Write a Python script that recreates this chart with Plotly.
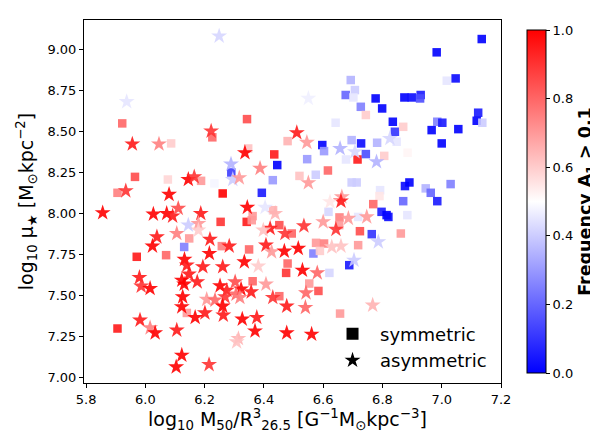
import plotly.graph_objects as go

# symmetric galaxies (squares)
sym_x = [5.922, 6.087, 5.965, 5.906, 6.076, 5.971, 6.070, 5.906, 6.140, 6.131, 6.148,
         6.226, 6.343, 6.347, 6.188, 6.233, 6.261, 6.290, 6.393, 6.430, 6.445, 6.435,
         6.480, 6.520, 6.398, 6.597, 6.603, 6.546, 6.575, 6.616, 6.362, 6.431,
         6.254, 6.258, 6.342, 6.359, 6.452, 6.494, 6.350, 6.567, 6.576, 6.603,
         6.480, 6.475, 6.621, 6.362, 6.553, 6.584, 6.452, 6.308,
         7.135, 6.983, 7.017, 7.047, 6.693, 6.707, 6.676, 6.702, 6.777, 6.874, 6.899, 6.929, 6.927,
         6.799, 6.727, 6.744, 6.835, 6.842, 6.870, 6.966, 6.985, 7.002, 7.056, 7.000, 7.123, 7.118,
         7.137, 6.642, 6.696, 6.728, 6.716, 6.744, 6.677, 6.782, 6.848, 6.806, 6.885, 6.696, 6.713,
         6.876, 6.891, 6.946, 6.963, 6.985, 7.030, 6.792, 6.790, 6.769, 6.870, 6.797, 6.814, 6.820,
         6.884, 6.618, 6.655, 6.718, 6.657,
         6.654, 6.724, 6.764, 6.862, 6.718, 6.589, 6.688, 6.657]
sym_y = [8.547, 8.425, 8.221, 8.124, 8.205, 7.734, 7.744, 7.297, 7.392, 7.794, 7.846,
         8.462, 8.573, 8.394, 8.197, 8.181, 8.120, 8.248, 8.124, 8.201, 8.293, 8.358,
         8.439, 8.227, 8.374, 8.415, 8.378, 8.329, 8.234, 8.260, 7.982, 8.018,
         7.947, 7.799, 7.947, 7.957, 7.927, 7.876, 7.779, 7.754, 7.819, 7.815,
         7.693, 7.636, 7.636, 7.585, 7.571, 7.526, 7.494, 7.886,
         9.061, 8.980, 8.807, 8.821, 8.811, 8.750, 8.720, 8.705, 8.699, 8.705, 8.705, 8.720, 8.699,
         8.638, 8.648, 8.598, 8.557, 8.496, 8.526, 8.506, 8.557, 8.551, 8.512, 8.425, 8.612, 8.563,
         8.551, 8.551, 8.445, 8.425, 8.327, 8.360, 8.327, 8.429, 8.435, 8.349, 8.368, 8.187, 8.187,
         8.165, 8.187, 8.151, 8.124, 8.073, 8.177, 8.140, 8.104, 8.055, 8.073, 8.008, 7.988, 7.977,
         7.988, 8.008, 7.974, 7.977, 8.486,
         7.927, 7.890, 7.872, 7.876, 7.805, 7.770, 7.683, 7.388]
sym_freq = [0.8, 0.6, 0.85, 0.75, 0.58, 0.95, 0.8, 0.95, 0.7, 0.25, 0.7,
            0.8, 0.85, 0.62, 0.7, 0.48, 1.0, 0.12, 0.05, 0.3, 0.0, 0.95,
            0.65, 0.62, 0.5, 0.0, 0.3, 0.3, 0.4, 0.8, 0.7, 0.65,
            0.9, 0.75, 0.95, 0.7, 0.85, 0.8, 0.8, 0.25, 0.7, 0.75,
            0.8, 0.9, 0.42, 0.8, 0.7, 0.85, 0.8, 0.5,
            0.0, 0.0, 0.45, 0.02, 0.35, 0.4, 0.2, 0.45, 0.0, 0.0, 0.02, 0.05, 0.15,
            0.0, 0.25, 0.6, 0.0, 0.1, 0.6, 0.0, 0.25, 0.05, 0.0, 0.0, 0.05, 0.0,
            0.4, 0.45, 0.35, 0.02, 0.95, 0.15, 0.45, 0.35, 0.45, 0.6, 0.52, 0.4, 0.4,
            0.02, 0.0, 0.35, 0.2, 0.05, 0.25, 0.45, 0.55, 0.8, 0.2, 0.05, 0.0, 0.02,
            0.45, 0.42, 0.75, 0.45, 0.5,
            0.7, 0.85, 0.1, 0.7, 0.7, 0.6, 0.05, 0.7]

# asymmetric galaxies (stars)
asym_x = [5.937, 5.956, 6.046, 5.934, 5.856, 6.080, 6.027, 6.072, 6.092, 6.111, 6.039,
          6.024, 6.106, 5.980, 5.986, 6.016, 5.982, 6.016, 6.033, 6.106, 6.104, 6.123,
          6.132, 6.140, 6.147, 6.123, 6.131, 6.126, 6.123, 6.145, 6.145,
          6.249, 6.222, 6.336, 6.165, 6.289, 6.295, 6.317, 6.387, 6.511, 6.545, 6.550,
          6.187, 6.344, 6.404, 6.438, 6.179, 6.550,
          6.179, 6.218, 6.283, 6.216, 6.421, 6.398, 6.471, 6.535, 6.600, 6.643, 6.407,
          6.426, 6.469, 6.516, 6.629, 6.194, 6.261, 6.334, 6.381, 6.530, 6.580, 6.175,
          6.252, 6.303, 6.407, 6.275, 6.323, 6.357, 6.306, 6.207, 6.235, 6.269, 6.319,
          6.430, 6.542, 6.261, 6.201, 6.168, 6.263, 6.327, 6.376, 6.477, 6.540, 6.370,
          6.477, 6.561, 6.314, 6.308, 6.215,
          6.657, 6.707, 6.780, 6.825, 6.663, 6.660, 6.623, 6.685, 6.747,
          6.660, 6.704, 6.786, 6.767]
asym_y = [8.679, 8.421, 8.421, 8.136, 8.002, 8.114, 7.994, 7.998, 7.982, 8.029, 7.855,
          7.799, 7.876, 7.608, 7.555, 7.541, 7.348, 7.301, 7.270, 7.287, 7.063, 7.134,
          7.718, 7.683, 7.628, 7.591, 7.567, 7.490, 7.429, 7.927, 8.205,
          9.079, 8.500, 8.368, 8.221, 8.299, 8.205, 8.215, 8.273, 8.490, 8.431, 8.185,
          7.998, 8.035, 8.035, 7.998, 7.937, 8.699,
          7.896, 7.840, 7.799, 7.754, 7.907, 7.896, 7.876, 7.922, 7.947, 7.901, 7.805,
          7.764, 7.768, 7.785, 7.794, 7.673, 7.673, 7.703, 7.677, 7.652, 7.636, 7.581,
          7.557, 7.581, 7.567, 7.530, 7.537, 7.520, 7.506, 7.474, 7.470, 7.490, 7.486,
          7.486, 7.514, 7.433, 7.392, 7.364, 7.378, 7.354, 7.364, 7.433, 7.425, 7.282,
          7.270, 7.262, 7.236, 7.215, 7.077,
          8.394, 8.374, 8.313, 8.455, 8.099, 8.073, 8.069, 7.968, 7.977,
          7.799, 7.713, 7.825, 7.439]
asym_freq = [0.45, 0.95, 0.75, 0.9, 1.0, 1.0, 1.0, 1.0, 0.95, 0.85, 0.95,
             1.0, 0.75, 0.95, 0.9, 1.0, 0.95, 0.75, 1.0, 0.95, 1.0, 1.0,
             1.0, 0.95, 0.95, 1.0, 1.0, 1.0, 1.0, 0.4, 1.0,
             0.42, 0.9, 1.0, 0.9, 0.35, 0.4, 0.7, 0.75, 0.95, 0.7, 0.7,
             0.95, 1.0, 0.45, 0.65, 0.7, 0.47,
             0.6, 0.95, 0.95, 1.0, 0.95, 0.62, 0.9, 0.9, 0.7, 0.9, 0.95,
             0.7, 1.0, 1.0, 0.62, 0.95, 0.95, 1.0, 0.6, 1.0, 0.8, 0.95,
             1.0, 0.85, 0.7, 0.95, 1.0, 0.95, 0.8, 0.7, 0.8, 0.9, 0.75,
             0.9, 0.8, 1.0, 0.95, 1.0, 0.95, 1.0, 0.95, 0.95, 0.8, 1.0,
             1.0, 1.0, 0.65, 0.62, 0.9,
             0.35, 0.42, 0.35, 0.42, 0.7, 0.95, 0.55, 0.7, 0.7,
             0.62, 0.4, 0.4, 0.65]

bwr = [[0.0, "rgb(0,0,255)"], [0.5, "rgb(255,255,255)"], [1.0, "rgb(255,0,0)"]]
font = "DejaVu Sans, Arial, sans-serif"

fig = go.Figure()

fig.add_trace(go.Scatter(
    x=sym_x, y=sym_y, mode="markers", showlegend=False,
    marker=dict(symbol="square", size=8.5, color=sym_freq, colorscale=bwr,
                cmin=0, cmax=1, opacity=0.9, line=dict(width=0),
                colorbar=dict(
                    x=1.039, xanchor="left", y=0.5, len=1.0, lenmode="fraction",
                    thickness=19, outlinecolor="black", outlinewidth=1,
                    ticks="outside", ticklen=4, tickcolor="black",
                    tickvals=[0, 0.2, 0.4, 0.6, 0.8, 1.0], tickformat=".1f",
                    tickfont=dict(size=13, color="black", family=font),
                    title=dict(text="<b>Frequency A<sub>1</sub> > 0.1</b>", side="right",
                               font=dict(size=17.5, color="black", family=font)),
                )),
))

fig.add_trace(go.Scatter(
    x=asym_x, y=asym_y, mode="markers", showlegend=False,
    marker=dict(symbol="star", size=12, color=asym_freq, colorscale=bwr,
                cmin=0, cmax=1, opacity=0.9, line=dict(width=0)),
))

# legend entries
fig.add_trace(go.Scatter(x=[None], y=[None], mode="markers", name="symmetric",
                         marker=dict(symbol="square", size=10, color="black")))
fig.add_trace(go.Scatter(x=[None], y=[None], mode="markers", name="asymmetric",
                         marker=dict(symbol="star", size=13, color="black")))

axis_common = dict(showline=True, mirror=True, linecolor="black", linewidth=1,
                   ticks="outside", ticklen=4, tickcolor="black", showgrid=False,
                   zeroline=False, tickfont=dict(size=13, color="black", family=font))

# page body adds 8px, so the figure is 8px smaller than the window
fig.update_layout(
    width=590, height=436,
    margin=dict(l=76, r=97, t=12, b=61, autoexpand=False),
    paper_bgcolor="white", plot_bgcolor="white",
    font=dict(family=font, color="black"),
    xaxis=dict(range=[5.793, 7.2], tickvals=[5.8, 6.0, 6.2, 6.4, 6.6, 6.8, 7.0, 7.2],
               tickformat=".1f", **axis_common),
    yaxis=dict(range=[6.965, 9.177], tickvals=[7.0, 7.25, 7.5, 7.75, 8.0, 8.25, 8.5, 8.75, 9.0],
               tickformat=".2f",
               title=dict(text="log<sub>10</sub> μ<sub>★</sub> [M<sub>⊙</sub>kpc<sup>−2</sup>]",
                          font=dict(size=19), standoff=8),
               **axis_common),
    legend=dict(x=0.578, y=0.012, xanchor="left", yanchor="bottom", bgcolor="rgba(0,0,0,0)",
                font=dict(size=18, color="black", family=font), itemsizing="constant",
                itemwidth=45, tracegroupgap=0),
    annotations=[dict(
        text="log<sub>10</sub> M<sub>50</sub>/R<sup>3</sup><sub>26.5</sub> "
             "[G<sup>−1</sup>M<sub>⊙</sub>kpc<sup>−3</sup>]",
        xref="paper", yref="paper", x=0.489, y=-0.1, xanchor="center", yanchor="middle",
        showarrow=False, font=dict(size=19, color="black", family=font))],
)

fig.write_html("out.html")
